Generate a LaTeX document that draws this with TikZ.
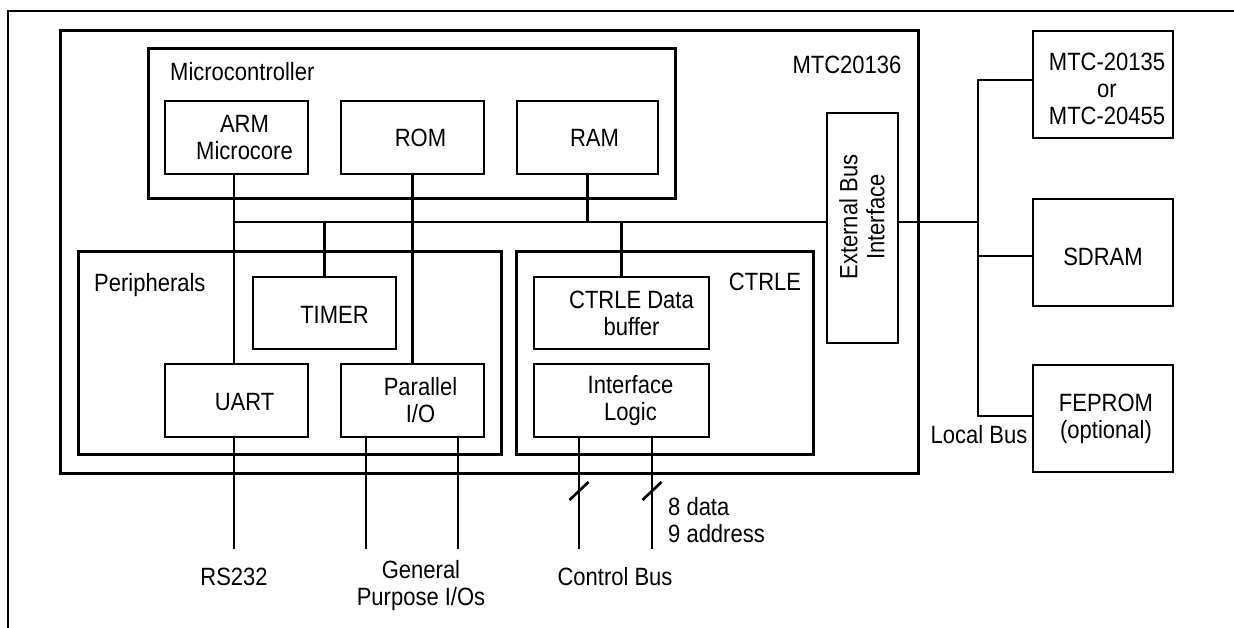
\documentclass[tikz,border=0pt]{standalone}
\usepackage{fontspec}
\setmainfont{Liberation Sans}[FakeStretch=0.88]
\usetikzlibrary{calc}
\tikzset{
  txt/.style={font=\fontsize{25}{27}\selectfont, inner sep=0pt, align=center},
  lbl/.style={font=\fontsize{25}{27}\selectfont, inner sep=0pt},
  box/.style={draw, line width=2.3pt, inner sep=0pt},
  grp/.style={draw, line width=3pt, inner sep=0pt},
  bus/.style={line width=2.7pt},
  wire/.style={line width=1.2pt},
  frame/.style={line width=2.5pt},
}
\begin{document}
\begin{tikzpicture}[x=1pt,y=-1pt]
\useasboundingbox (0,0) rectangle (1234,628);
% outer frame (top and left visible)
\coordinate (fTL) at (8,11);
\draw[frame] (fTL -| 1234,0) -- (fTL) -- (fTL |- 0,628);

% main chip
\node[grp, minimum width=858, minimum height=442] (main) at (489,252) {};
\node[lbl] (lmtc) at (847,65) {MTC20136};

% microcontroller
\node[grp, minimum width=527, minimum height=150] (mc) at (411.5,124) {};
\node[lbl, anchor=west] (lmc) at (170,72) {Microcontroller};
\node[box, minimum width=143, minimum height=73, label={[txt,xshift=8pt]center:{ARM\\Microcore}}] (arm) at (236.5,137.5) {};
\node[box, minimum width=143, minimum height=73, label={[txt,xshift=8pt]center:ROM}] (rom) at (412.5,137.5) {};
\node[box, minimum width=141, minimum height=73, label={[txt,xshift=7pt]center:RAM}] (ram) at (587.5,137.5) {};

% peripherals
\node[grp, minimum width=423, minimum height=202] (per) at (289.5,353) {};
\node[lbl, anchor=west] (lper) at (94,285) {Peripherals};
\node[box, minimum width=143, minimum height=72, label={[txt,xshift=10pt,yshift=-2pt]center:TIMER}] (timer) at (324.5,313) {};
\node[box, minimum width=143, minimum height=73, label={[txt,xshift=8pt,yshift=-2pt]center:UART}] (uart) at (236.5,400.5) {};
\node[box, minimum width=143, minimum height=73, label={[txt,xshift=8pt]center:{Parallel\\I/O}}] (pio) at (412.5,400.5) {};

% CTRLE
\node[grp, minimum width=297, minimum height=202] (ctrle) at (664.5,353) {};
\node[lbl] (lctrle) at (765,282) {CTRLE};
\node[box, minimum width=175, minimum height=72, label={[txt,xshift=10pt]center:{CTRLE Data\\buffer}}] (buf) at (621.5,313) {};
\node[box, minimum width=175, minimum height=73, label={[txt,xshift=9pt]center:{Interface\\Logic}}] (ilog) at (621.5,400.5) {};

% external bus interface
\node[box, minimum width=71, minimum height=230] (ebi) at (862.5,228) {};
\node[txt, rotate=90] (lebi) at (862,217) {External Bus\\Interface};

% external devices
\node[box, minimum width=140, minimum height=107, label={[txt,xshift=4pt,yshift=-4pt]center:{MTC-20135\\or\\MTC-20455}}] (mtc) at (1103,84.5) {};
\node[box, minimum width=140, minimum height=107, label={[txt,yshift=-4pt]center:SDRAM}] (sdram) at (1103,252.5) {};
\node[box, minimum width=140, minimum height=107, label={[txt,xshift=3pt]center:{FEPROM\\(optional)}}] (feprom) at (1103,418.5) {};

% internal bus
\coordinate (busL) at (234,222);
\coordinate (lbJ) at (978,222);
\draw[bus] (busL) -- (busL -| ebi.west);
\draw[bus] (arm.south -| busL) -- (uart.north -| busL);
\draw[bus] (rom.south) -- (pio.north);
\draw[bus] (ram.south) -- (ram.south |- busL);
\draw[bus] (timer.north) -- (timer.north |- busL);
\draw[bus] (buf.north) -- (buf.north |- busL);

% local bus
\coordinate (lbT) at (978,80);
\coordinate (lbM) at (978,256);
\coordinate (lbB) at (978,416);
\draw[bus] (ebi.east |- lbJ) -- (lbJ);
\draw[bus] (mtc.west |- lbT) -- (lbT) -- (lbB) -- (lbB -| feprom.west);
\draw[bus] (lbM) -- (lbM -| sdram.west);
\node[lbl] (llb) at (979,435) {Local Bus};

% external wires
\coordinate (rs) at (234,549);
\coordinate (gp1) at (366,549);
\coordinate (gp2) at (458,549);
\coordinate (cb1) at (579,549);
\coordinate (cb2) at (652,549);
\draw[wire] (uart.south -| rs) -- (rs);
\draw[wire] (pio.south -| gp1) -- (gp1);
\draw[wire] (pio.south -| gp2) -- (gp2);
\draw[bus] (ilog.south -| cb1) -- (cb1);
\draw[bus] (ilog.south -| cb2) -- (cb2);
\coordinate (s1) at (579,491);
\coordinate (s2) at (652,491);
\draw[bus] ([shift={(-9.5,9)}]s1) -- ([shift={(9.5,-9)}]s1);
\draw[bus] ([shift={(-9.5,9)}]s2) -- ([shift={(9.5,-9)}]s2);

\node[lbl] (lrs) at (234,577) {RS232};
\node[txt] (lgp) at (421,586) {General\\Purpose I/Os};
\node[lbl] (lcb) at (615,577) {Control Bus};
\node[txt, align=left, anchor=west] (lda) at (668,520) {8 data\\9 address};
\end{tikzpicture}
\end{document}
